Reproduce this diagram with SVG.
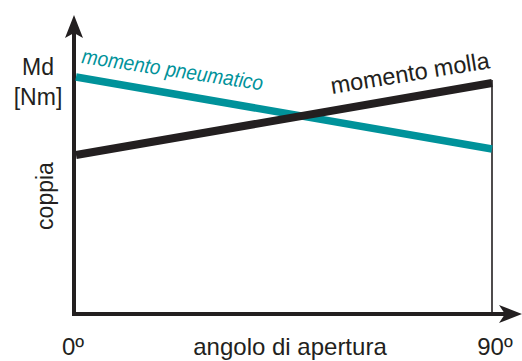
<svg xmlns="http://www.w3.org/2000/svg" width="522" height="361" viewBox="0 0 522 361">
<style>
  text{font-family:"Liberation Sans",Arial,sans-serif;fill:#231f20}
  .ax{stroke:#231f20;stroke-width:4;fill:none}
</style>
<rect width="522" height="361" fill="#fff"/>
<g id="axes">
  <line class="ax" x1="74" y1="316" x2="74" y2="30"/>
  <path d="M74,15 L83,38 L74,33 L65,38 Z" fill="#231f20"/>
  <line class="ax" x1="72" y1="314" x2="508" y2="314"/>
  <path d="M522,314 L499,305 L505,314 L499,323 Z" fill="#231f20"/>
  <line x1="492" y1="80" x2="492" y2="314" stroke="#231f20" stroke-width="1.6"/>
</g>
<g id="connectors">
  <line id="curve-pneumatico" x1="76" y1="77" x2="492" y2="149" stroke="#00929a" stroke-width="7.5"/>
  <line id="curve-molla" x1="76" y1="155" x2="492" y2="83" stroke="#231f20" stroke-width="8"/>
</g>
<g id="labels">
  <text x="38" y="75" font-size="23" text-anchor="middle">Md</text>
  <text x="38" y="105" font-size="23" text-anchor="middle">[Nm]</text>
  <text font-size="23" text-anchor="middle" transform="translate(53,196) rotate(-90)">coppia</text>
  <text x="73" y="355" font-size="24" text-anchor="middle">0º</text>
  <text x="290" y="355" font-size="24" text-anchor="middle">angolo di apertura</text>
  <text x="495" y="355" font-size="24" text-anchor="middle">90º</text>
  <text font-size="21" font-style="italic" textLength="183" lengthAdjust="spacingAndGlyphs" transform="translate(81,63) rotate(8.6)" style="fill:#00929a">momento pneumatico</text>
  <text font-size="23.5" transform="translate(332,94) rotate(-9.3)">momento molla</text>
</g>
</svg>
